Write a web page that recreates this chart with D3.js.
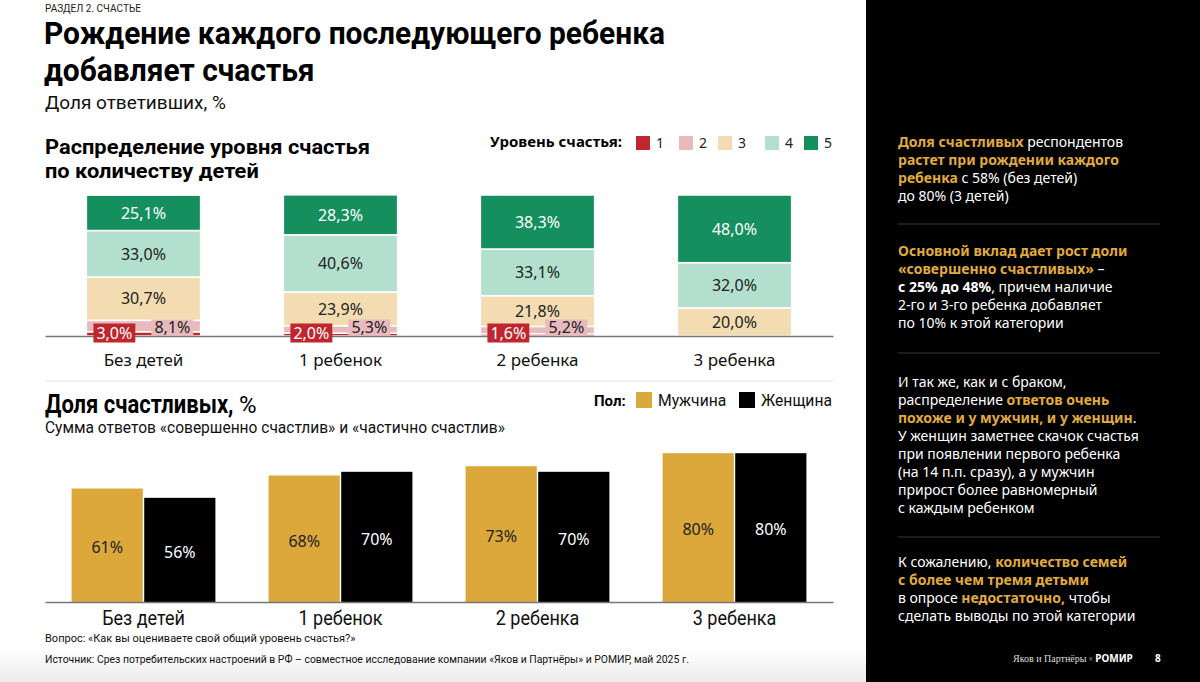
<!DOCTYPE html>
<html>
<head>
<meta charset="utf-8">
<script src="https://cdn.jsdelivr.net/npm/d3@7"></script>
<style>
  body { margin: 0; background: #fff; }
  svg { display: block; }
  .narrow { font-family: "Roboto", "Liberation Sans", sans-serif; }
  .geo { font-family: "Noto Sans", "Open Sans", sans-serif; }
</style>
</head>
<body>
<div id="chart"></div>
<script>
var categories = ["Без детей", "1 ребенок", "2 ребенка", "3 ребенка"]
var levels = ["1", "2", "3", "4", "5"]
var level1 = [3.0, 2.0, 1.6, 0]
var level2 = [8.1, 5.3, 5.2, 0]
var level3 = [30.7, 23.9, 21.8, 20.0]
var level4 = [33.0, 40.6, 33.1, 32.0]
var level5 = [25.1, 28.3, 38.3, 48.0]
var genders = ["Мужчина", "Женщина"]
var male = [61, 68, 73, 80]
var female = [56, 70, 70, 80]

var level_colors = ["#c0262d", "#e8b9bd", "#f3dcb1", "#b3dfcf", "#158f5e"]
var level_text = ["#fff", "#222", "#222", "#222", "#fff"]
var gender_colors = ["#dca73b", "#000"]
var gender_text = ["#222", "#fff"]
var gold = "#e0aa3e"

var width = 1200, height = 682
var svg = d3.select("#chart").append("svg")
  .attr("width", width)
  .attr("height", height)

// squeeze a text horizontally (the original uses a condensed face)
function squeeze(sel, factor) {
  sel.each(function () {
    var w = this.getComputedTextLength()
    d3.select(this).attr("textLength", w * factor).attr("lengthAdjust", "spacingAndGlyphs")
  })
  return sel
}
function fit(sel, w) {
  return sel.attr("textLength", w).attr("lengthAdjust", "spacingAndGlyphs")
}

var defs = svg.append("defs")
var grad = defs.append("linearGradient")
  .attr("id", "foot").attr("x1", 0).attr("y1", 0).attr("x2", 0).attr("y2", 1)
grad.append("stop").attr("offset", "0%").attr("stop-color", "#fff")
grad.append("stop").attr("offset", "100%").attr("stop-color", "#ececec")

svg.append("rect").attr("width", width).attr("height", height).attr("fill", "#fff")
svg.append("rect").attr("x", 0).attr("y", 648).attr("width", 866).attr("height", 34)
  .attr("fill", "url(#foot)")

// Header
svg.append("text").attr("class", "narrow")
  .attr("x", 45).attr("y", 12).attr("font-size", 10).attr("fill", "#222")
  .text("РАЗДЕЛ 2. СЧАСТЬЕ")
var t1 = svg.append("text").attr("class", "narrow")
  .attr("x", 44).attr("y", 44).attr("font-size", 31).attr("font-weight", "bold").attr("fill", "#000")
  .text("Рождение каждого последующего ребенка")
var t1w = t1.node().getComputedTextLength()
fit(t1, 621)
squeeze(svg.append("text").attr("class", "narrow")
  .attr("x", 44).attr("y", 81).attr("font-size", 31).attr("font-weight", "bold").attr("fill", "#000")
  .text("добавляет счастья"), 621 / t1w)
svg.append("text").attr("class", "narrow")
  .attr("x", 45).attr("y", 109).attr("font-size", 19).attr("fill", "#111")
  .text("Доля ответивших, %")

// ---- Top chart: stacked distribution
var s1 = svg.append("text").attr("class", "narrow")
  .attr("x", 45).attr("y", 154).attr("font-size", 20).attr("font-weight", "bold").attr("fill", "#000")
  .text("Распределение уровня счастья")
var s1w = s1.node().getComputedTextLength()
fit(s1, 325)
squeeze(svg.append("text").attr("class", "narrow")
  .attr("x", 45).attr("y", 178).attr("font-size", 20).attr("font-weight", "bold").attr("fill", "#000")
  .text("по количеству детей"), 325 / s1w)

var legend = svg.append("g").attr("class", "geo")
fit(legend.append("text")
  .attr("x", 490).attr("y", 147).attr("font-size", 14).attr("font-weight", "bold")
  .text("Уровень счастья:"), 132)
var legend_x = [636, 679, 718, 765, 804]
levels.forEach(function (l, i) {
  legend.append("rect")
    .attr("x", legend_x[i]).attr("y", 136).attr("width", 14).attr("height", 14)
    .attr("fill", level_colors[i])
  legend.append("text")
    .attr("x", legend_x[i] + 20).attr("y", 148).attr("font-size", 14).attr("fill", "#222")
    .text(l)
})

var rows = categories.map(function (c, i) {
  return { cat: c, "1": level1[i], "2": level2[i], "3": level3[i], "4": level4[i], "5": level5[i] }
})
var stack = d3.stack().keys(levels)(rows)

var xTop = d3.scaleBand().domain(categories).range([45, 833])
  .paddingInner(0.42).paddingOuter(0.21)
var yTop = d3.scaleLinear().domain([0, 100]).range([336, 195])

var top_g = svg.append("g")
stack.forEach(function (layer, li) {
  top_g.selectAll(".seg" + li)
    .data(layer.filter(function (d) { return d[1] - d[0] > 0 }))
    .enter().append("rect")
      .attr("x", function (d) { return xTop(d.data.cat) })
      .attr("y", function (d) { return yTop(d[1]) })
      .attr("width", xTop.bandwidth())
      .attr("height", function (d) { return yTop(d[0]) - yTop(d[1]) })
      .attr("fill", level_colors[li])
      .attr("stroke", "#fff")
      .attr("stroke-width", 1.5)
})

var axTop = svg.append("g")
  .attr("transform", "translate(0,336)")
  .call(d3.axisBottom(xTop).tickSize(0).tickSizeOuter(0).tickPadding(18))
axTop.select(".domain").attr("stroke", "#777").attr("stroke-width", 1.5)
axTop.selectAll("text").attr("font-size", 17).attr("fill", "#111")
  .attr("font-family", "Noto Sans")

function fmt(v) { return v.toFixed(1).replace(".", ",") + "%" }

// big labels (levels 3..5)
stack.forEach(function (layer, li) {
  if (li < 2) return
  top_g.selectAll(".lab" + li)
    .data(layer.filter(function (d) { return d[1] - d[0] > 0 }))
    .enter().append("text")
      .attr("class", "geo")
      .attr("x", function (d) { return xTop(d.data.cat) + xTop.bandwidth() / 2 })
      .attr("y", function (d) { return yTop((d[0] + d[1]) / 2) })
      .attr("dy", "0.36em")
      .attr("text-anchor", "middle")
      .attr("font-size", 16)
      .attr("fill", level_text[li])
      .text(function (d) { return fmt(d[1] - d[0]) })
})

// small labels (levels 1..2) in boxes
var small_offset = [28, 86]
var small_h = [19, 16]
var small_y = [333, 327.5]
stack.forEach(function (layer, li) {
  if (li > 1) return
  var g = svg.selectAll(".small" + li)
    .data(layer.filter(function (d) { return d[1] - d[0] > 0 }))
    .enter().append("g")
      .attr("transform", function (d) {
        return "translate(" + (xTop(d.data.cat) + small_offset[li]) + "," + small_y[li] + ")"
      })
  g.append("text")
    .attr("class", "geo")
    .attr("text-anchor", "middle")
    .attr("dy", "0.36em")
    .attr("font-size", 16)
    .attr("fill", level_text[li])
    .text(function (d) { return fmt(d[1] - d[0]) })
  g.each(function () {
    var t = d3.select(this).select("text")
    var w = t.node().getComputedTextLength() + 6
    d3.select(this).insert("rect", "text")
      .attr("x", -w / 2).attr("y", -small_h[li] / 2)
      .attr("width", w).attr("height", small_h[li])
      .attr("fill", level_colors[li])
  })
})

svg.append("line")
  .attr("x1", 45).attr("x2", 833).attr("y1", 381).attr("y2", 381)
  .attr("stroke", "#e4e4e4").attr("stroke-width", 1)

// ---- Bottom chart: share of happy by gender
svg.append("text").attr("class", "narrow")
  .attr("transform", "translate(45,413) scale(0.88,1)")
  .attr("font-size", 25).attr("font-weight", "bold").attr("fill", "#000")
  .text("Доля счастливых,")
svg.append("text").attr("class", "narrow")
  .attr("x", 239).attr("y", 413).attr("font-size", 24).attr("fill", "#000")
  .text("%")
svg.append("text").attr("class", "narrow")
  .attr("x", 45).attr("y", 433).attr("font-size", 16).attr("fill", "#111")
  .attr("textLength", 460).attr("lengthAdjust", "spacingAndGlyphs")
  .text("Сумма ответов «совершенно счастлив» и «частично счастлив»")

var leg2 = svg.append("g").attr("class", "narrow")
leg2.append("text").attr("x", 594).attr("y", 406).attr("font-size", 15).attr("font-weight", "bold")
  .text("Пол:")
var leg2_x = [636, 739]
genders.forEach(function (g, i) {
  leg2.append("rect").attr("x", leg2_x[i]).attr("y", 392).attr("width", 16).attr("height", 16)
    .attr("fill", gender_colors[i])
  squeeze(leg2.append("text").attr("x", leg2_x[i] + 22).attr("y", 406).attr("font-size", 16.5).attr("fill", "#111")
    .text(g), 0.95)
})

var xBot = d3.scaleBand().domain(categories).range([45, 833])
  .paddingInner(0.27).paddingOuter(0.135)
var xInner = d3.scaleBand().domain(genders).range([0, xBot.bandwidth()]).paddingInner(0.02)
var yBot = d3.scaleLinear().domain([0, 100]).range([602, 416])

var pairs = []
categories.forEach(function (c, i) {
  pairs.push({ cat: c, g: 0, v: male[i] })
  pairs.push({ cat: c, g: 1, v: female[i] })
})

var bot_g = svg.append("g")
bot_g.selectAll("rect").data(pairs).enter().append("rect")
  .attr("x", function (d) { return xBot(d.cat) + xInner(genders[d.g]) })
  .attr("y", function (d) { return yBot(d.v) })
  .attr("width", xInner.bandwidth())
  .attr("height", function (d) { return yBot(0) - yBot(d.v) })
  .attr("fill", function (d) { return gender_colors[d.g] })
bot_g.selectAll("text").data(pairs).enter().append("text")
  .attr("class", "geo")
  .attr("x", function (d) { return xBot(d.cat) + xInner(genders[d.g]) + xInner.bandwidth() / 2 })
  .attr("y", function (d) { return yBot(d.v / 2) + 2 })
  .attr("dy", "0.36em")
  .attr("text-anchor", "middle")
  .attr("font-size", 16)
  .attr("fill", function (d) { return gender_text[d.g] })
  .text(function (d) { return d.v + "%" })

var axBot = svg.append("g")
  .attr("transform", "translate(0,602)")
  .call(d3.axisBottom(xBot).tickSize(0).tickSizeOuter(0).tickPadding(9))
axBot.select(".domain").attr("stroke", "#777").attr("stroke-width", 1.5)
squeeze(axBot.selectAll("text").attr("font-family", "Roboto").attr("font-size", 20).attr("fill", "#111"), 0.9)

// Footer
svg.append("text").attr("class", "narrow")
  .attr("x", 45).attr("y", 642).attr("font-size", 11).attr("fill", "#111")
  .text("Вопрос: «Как вы оцениваете свой общий уровень счастья?»")
fit(svg.append("text").attr("class", "narrow")
  .attr("x", 45).attr("y", 663).attr("font-size", 11).attr("fill", "#111")
  .text("Источник: Срез потребительских настроений в РФ – совместное исследование компании «Яков и Партнёры» и РОМИР, май 2025 г."), 644)

// ---- Right panel
svg.append("rect").attr("x", 866).attr("y", 0).attr("width", 334).attr("height", height).attr("fill", "#000")

// each line: list of [text, style] where style: w = white, g = gold bold, b = white bold
var blocks = [
  { y: 147, lines: [
    [["Доля счастливых", "g"], [" респондентов", "w"]],
    [["растет при рождении каждого", "g"]],
    [["ребенка", "g"], [" с 58% (без детей)", "w"]],
    [["до 80% (3 детей)", "w"]]
  ] },
  { y: 256, lines: [
    [["Основной вклад дает рост доли", "g"]],
    [["«совершенно счастливых»", "g"], [" –", "w"]],
    [["с 25% до 48%", "b"], [", причем наличие", "w"]],
    [["2-го и 3-го ребенка добавляет", "w"]],
    [["по 10% к этой категории", "w"]]
  ] },
  { y: 387, lines: [
    [["И так же, как и с браком,", "w"]],
    [["распределение ", "w"], ["ответов очень", "g"]],
    [["похоже и у мужчин, и у женщин", "g"], [".", "w"]],
    [["У женщин заметнее скачок счастья", "w"]],
    [["при появлении первого ребенка", "w"]],
    [["(на 14 п.п. сразу), а у мужчин", "w"]],
    [["прирост более равномерный", "w"]],
    [["с каждым ребенком", "w"]]
  ] },
  { y: 567, lines: [
    [["К сожалению, ", "w"], ["количество семей", "g"]],
    [["с более чем тремя детьми", "g"]],
    [["в опросе ", "w"], ["недостаточно,", "g"], [" чтобы", "w"]],
    [["сделать выводы по этой категории", "w"]]
  ] }
]
blocks.forEach(function (b) {
  b.lines.forEach(function (line, li) {
    var t = svg.append("text").attr("class", "geo")
      .attr("x", 898).attr("y", b.y + li * 18).attr("font-size", 14)
    line.forEach(function (s) {
      t.append("tspan")
        .attr("fill", s[1] == "g" ? gold : "#fff")
        .attr("font-weight", s[1] == "w" ? "normal" : "bold")
        .text(s[0])
    })
  })
})
;[224, 353, 537].forEach(function (y) {
  svg.append("line").attr("x1", 898).attr("x2", 1160).attr("y1", y).attr("y2", y)
    .attr("stroke", "#3a3a3a").attr("stroke-width", 1)
})

var brand = svg.append("text").attr("x", 1013).attr("y", 662).attr("fill", "#ddd")
brand.append("tspan").attr("font-family", "Liberation Serif").attr("font-size", 10).text("Яков и Партнёры")
brand.append("tspan").attr("font-family", "Noto Sans").attr("font-size", 8).attr("fill", "#888").text(" × ")
brand.append("tspan").attr("font-family", "Noto Sans").attr("font-size", 10).attr("font-weight", "bold")
  .attr("fill", "#fff").text("РОМИР")
svg.append("text").attr("x", 1155).attr("y", 662).attr("font-family", "Noto Sans")
  .attr("font-size", 10).attr("font-weight", "bold").attr("fill", "#fff").text("8")
</script>
</body>
</html>
